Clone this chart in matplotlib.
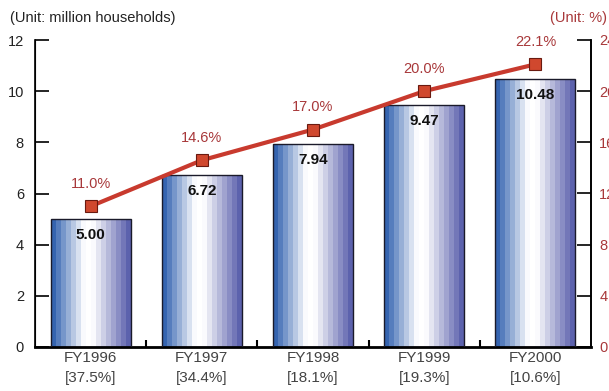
import numpy as np
import matplotlib
matplotlib.use("Agg")
import matplotlib.pyplot as plt
from matplotlib.colors import LinearSegmentedColormap

plt.rcParams['font.family'] = ['Liberation Sans', 'DejaVu Sans']

# data
years = ['FY1996', 'FY1997', 'FY1998', 'FY1999', 'FY2000']
growth = ['37.5%', '34.4%', '18.1%', '19.3%', '10.6%']
households = [5.00, 6.72, 7.94, 9.47, 10.48]
share = [11.0, 14.6, 17.0, 20.0, 22.1]

dark_red = '#a8383a'
line_red = '#c83a2e'

fig = plt.figure(figsize=(6.09, 3.91), dpi=100)
ax = fig.add_axes([35/609, 1 - 347/391, (591 - 35)/609, (347 - 40)/391])

# striped gradient bars
cmap = LinearSegmentedColormap.from_list(
    'stripes', [(0.0, '#2558aa'), (0.42, '#ffffff'), (0.52, '#ffffff'), (1.0, '#5258a8')])
n_strips = 16
width = 0.72
x = np.arange(len(years))
for i in range(n_strips):
    ax.bar(x - width/2 + i*width/n_strips, households, width=width/n_strips,
           align='edge', color=cmap((i + 0.5)/n_strips), linewidth=0, zorder=2)
ax.bar(x, households, width=width, fill=False, edgecolor='#1a1a2a', linewidth=1.0, zorder=3)

for xi, v in zip(x, households):
    ax.text(xi, v - 0.35, f'{v:.2f}', ha='center', va='top', fontsize=11,
            fontweight='bold', color='#111111', zorder=4)

ax.set_xlim(-0.5, len(years) - 0.5)
ax.set_ylim(0, 12)
ax.set_yticks(range(0, 13, 2))
ax.set_xticks(x)
ax.set_xticklabels([f'{y}\n[{g}]' for y, g in zip(years, growth)],
                   fontsize=11, color='#444444', linespacing=1.5)
ax.tick_params(axis='x', length=0, pad=3)
ax.set_xticks(x[:-1] + 0.5, minor=True)
ax.tick_params(axis='x', which='minor', direction='in', length=5, width=1.5)
ax.tick_params(axis='y', direction='in', length=10, width=1.2,
               labelsize=10.5, labelcolor='#222222', pad=8)
ax.spines['top'].set_visible(False)
for s in ['left', 'bottom', 'right']:
    ax.spines[s].set_linewidth(1.2)
ax.spines['bottom'].set_linewidth(2)

ax2 = ax.twinx()
ax2.set_ylim(0, 24)
ax2.set_yticks(range(0, 25, 4))
ax2.tick_params(axis='y', direction='in', length=10, width=1.2,
                labelsize=10.5, labelcolor=dark_red, pad=6)
ax2.spines['top'].set_visible(False)
ax2.spines['right'].set_linewidth(1.2)
ax2.plot(x, share, color=line_red, linewidth=3, zorder=5, marker='s',
         markersize=8, markerfacecolor='#d0482e', markeredgecolor='#6a1a10',
         markeredgewidth=0.8)
for xi, v in zip(x, share):
    ax2.text(xi, v + 1.2, f'{v:.1f}%', ha='center', va='bottom', fontsize=10.5,
             color=dark_red)

fig.text(10/609, 1 - 18/391, '(Unit: million households)', ha='left', va='center',
         fontsize=10.5, color='#222222')
fig.text(607/609, 1 - 18/391, '(Unit: %)', ha='right', va='center',
         fontsize=10.5, color=dark_red)

fig.savefig('out.png', dpi=100)
